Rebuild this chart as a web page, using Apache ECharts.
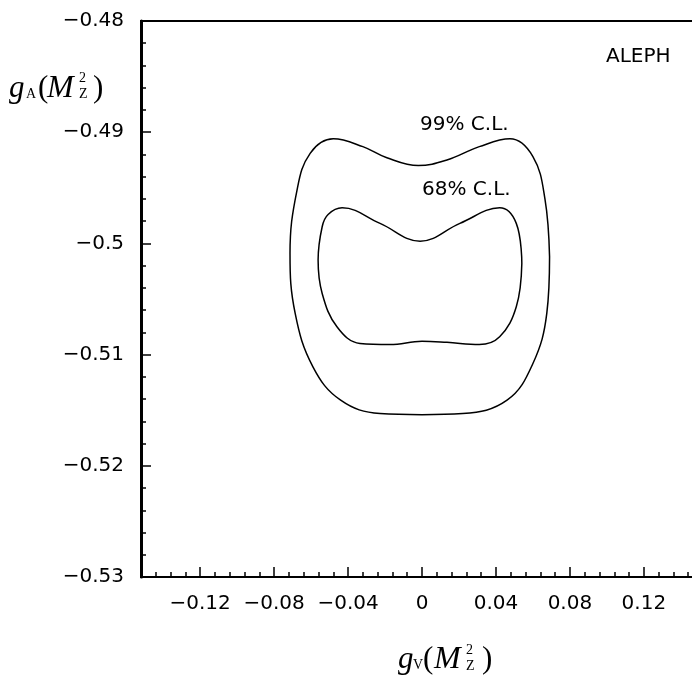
<!DOCTYPE html>
<html>
<head>
<meta charset="utf-8">
<script src="https://cdn.jsdelivr.net/npm/echarts@6/dist/echarts.min.js"></script>
<style>
	html, body { margin: 0; padding: 0; background: #fff; }
	#main { width: 692px; height: 676px; }
</style>
</head>
<body>
<div id="main"></div>
<script>
// contour points [gV, gA], start on the right flank so the smoothing seam is invisible
var cl99 = [
	[0.069, -0.5012], [0.0675, -0.5063], [0.060, -0.5108], [0.046, -0.5141],
	[0.022, -0.5153], [0.000, -0.5154], [-0.0227, -0.5153], [-0.044, -0.5141],
	[-0.059, -0.5111], [-0.0686, -0.5063], [-0.0714, -0.5009], [-0.0676, -0.4952],
	[-0.0605, -0.4919], [-0.048, -0.4906], [-0.032, -0.4913], [-0.019, -0.4923],
	[-0.002, -0.4930], [0.0135, -0.4925], [0.031, -0.4913], [0.0476, -0.4906],
	[0.060, -0.4922], [0.0665, -0.4960], [0.069, -0.5012]
];
var cl68 = [
	[0.054, -0.5018], [0.051, -0.5057], [0.042, -0.5084], [0.031, -0.5091],
	[0.0135, -0.5089], [0.000, -0.5088], [-0.0173, -0.5091], [-0.0335, -0.5090],
	[-0.046, -0.5075], [-0.054, -0.5045], [-0.0562, -0.5015], [-0.054, -0.4985],
	[-0.0508, -0.4974], [-0.0432, -0.4968], [-0.0227, -0.4982], [-0.001, -0.4998],
	[0.0205, -0.4982], [0.042, -0.4968], [0.051, -0.4982], [0.054, -0.5018]
];
var xMajor = [-0.12, -0.08, -0.04, 0, 0.04, 0.08, 0.12];
var yMin = -0.53, yMax = -0.48;

var sans = '"DejaVu Sans", sans-serif';
var serif = '"Liberation Serif", "DejaVu Serif", serif';

function minus(v) {
	return String(v).replace('-', '\u2212');
}

// axis titles: pieces [text, x, y, size, italic]
function title(parts) {
	return parts.map(function(p) {
		return {
			type: 'text',
			x: p[1],
			y: p[2],
			style: {
				text: p[0],
				font: (p[4] ? 'italic ' : '') + p[3] + 'px ' + serif,
				fill: '#000',
				verticalAlign: 'middle'
			}
		};
	});
}

var yTitle = title([
	['g', 9, 89, 31, true],
	['A', 26, 94, 14, false],
	['(', 38, 89, 31, false],
	['M', 47, 89, 32, true],
	['2', 79, 78, 14, false],
	['Z', 79, 94, 14, false],
	[')', 93, 89, 31, false]
]);
var xTitle = title([
	['g', 398, 660, 31, true],
	['V', 413, 665, 14, false],
	['(', 423, 660, 31, false],
	['M', 434, 660, 32, true],
	['2', 466, 650, 14, false],
	['Z', 466, 666, 14, false],
	[')', 482, 660, 31, false]
]);

var chart = echarts.init(document.getElementById('main'));
var option = {
	animation: false,
	grid: {
		left: 141,
		top: 21,
		width: 562,
		height: 556,
		outerBoundsMode: 'none',
		containLabel: false,
		show: true,
		borderColor: '#000',
		borderWidth: 2
	},
	xAxis: [{
		type: 'value',
		position: 'bottom',
		min: -0.152,
		max: 0.152,
		interval: 0.008,
		splitLine: { show: false },
		axisLine: { onZero: false, lineStyle: { color: '#000', width: 2 } },
		axisTick: { inside: true, length: 5, lineStyle: { color: '#000', width: 1.5 } },
		axisLabel: {
			margin: 17,
			color: '#000',
			fontFamily: sans,
			fontSize: 20,
			customValues: xMajor,
			formatter: function(v) {
				return minus(Math.round(v * 100) / 100);
			}
		}
	}, {
		type: 'value',
		position: 'top',
		offset: -556,
		min: -0.152,
		max: 0.152,
		splitLine: { show: false },
		axisLine: { show: false },
		axisTick: { inside: false, length: 10, customValues: xMajor, lineStyle: { color: '#000', width: 1.5 } },
		axisLabel: { show: false }
	}],
	yAxis: {
		type: 'value',
		min: yMin,
		max: yMax,
		interval: 0.01,
		splitLine: { show: false },
		axisLine: { onZero: false, lineStyle: { color: '#000', width: 3 } },
		axisTick: { inside: true, length: 10, lineStyle: { color: '#000', width: 1.5 } },
		minorTick: { show: true, splitNumber: 5, length: 5, lineStyle: { color: '#000', width: 1.5 } },
		axisLabel: {
			margin: 17,
			color: '#000',
			fontFamily: sans,
			fontSize: 20,
			formatter: function(v) {
				return minus(Math.round(v * 100) / 100);
			}
		}
	},
	series: [{
		name: '99% C.L.',
		type: 'line',
		data: cl99,
		smooth: 0.4,
		showSymbol: false,
		lineStyle: { color: '#000', width: 1.5 }
	}, {
		name: '68% C.L.',
		type: 'line',
		data: cl68,
		smooth: 0.4,
		showSymbol: false,
		lineStyle: { color: '#000', width: 1.5 }
	}],
	graphic: [
		{ type: 'text', x: 606, y: 57, style: { text: 'ALEPH', font: '20px ' + sans, fill: '#000', verticalAlign: 'middle' } },
		{ type: 'text', x: 420, y: 125, style: { text: '99% C.L.', font: '20px ' + sans, fill: '#000', verticalAlign: 'middle' } },
		{ type: 'text', x: 422, y: 190, style: { text: '68% C.L.', font: '20px ' + sans, fill: '#000', verticalAlign: 'middle' } }
	].concat(yTitle, xTitle)
};
chart.setOption(option);
</script>
</body>
</html>
